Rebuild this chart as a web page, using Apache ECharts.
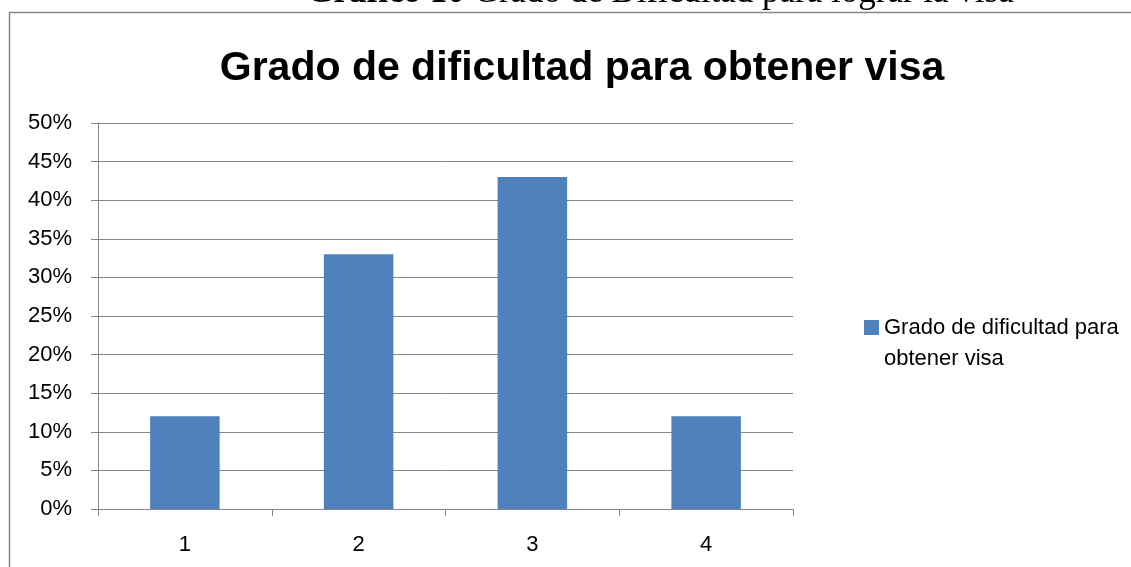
<!DOCTYPE html>
<html>
<head>
<meta charset="utf-8">
<script src="https://cdn.jsdelivr.net/npm/echarts@6/dist/echarts.min.js"></script>
<style>
  html, body { margin: 0; padding: 0; background: #fff; }
  #chart { width: 1131px; height: 567px; }
</style>
</head>
<body>
<div id="chart"></div>
<script>
// data
var categories = ['1', '2', '3', '4'];
var seriesName = 'Grado de dificultad para\nobtener visa';
var values = [12, 33, 43, 12];
var yTicks = { min: 0, max: 50, interval: 5 };

var chart = echarts.init(document.getElementById('chart'));
var uiFont = 'Liberation Sans';

chart.setOption({
    animation: false,
    backgroundColor: '#fff',
    title: {
        text: 'Grado de dificultad para obtener visa',
        left: 577,
        top: 43,
        textAlign: 'center',
        textStyle: { fontFamily: uiFont, fontWeight: 'bold', fontSize: 41, color: '#000' }
    },
    graphic: [
        {
            type: 'rect',
            shape: { x: 9.5, y: 12.5, width: 1130, height: 570 },
            style: { fill: 'none', stroke: '#868686', lineWidth: 1.5 },
            silent: true
        },
        {
            type: 'text',
            x: 660,
            y: -7,
            style: {
                text: '{b|Gráfico 10} Grado de Dificultad para lograr la visa',
                align: 'center',
                verticalAlign: 'middle',
                font: '35px "Liberation Serif"',
                fill: '#000',
                rich: { b: { fontWeight: 'bold', fontSize: 35, fontFamily: 'Liberation Serif' } }
            }
        }
    ],
    legend: {
        left: 859,
        top: 276,
        orient: 'vertical',
        itemWidth: 15,
        itemHeight: 15,
        icon: 'rect',
        // blank first line so the square sits next to the first text line
        formatter: function (name) { return ' \n' + name; },
        textStyle: { fontFamily: uiFont, fontSize: 22, color: '#000', lineHeight: 31 }
    },
    grid: { left: 98, right: 338, top: 123, bottom: 58, containLabel: false },
    xAxis: {
        type: 'category',
        data: categories,
        axisLine: { lineStyle: { color: '#868686', width: 1 } },
        axisTick: { show: true, length: 7, inside: false, lineStyle: { color: '#868686' } },
        axisLabel: { fontFamily: uiFont, fontSize: 22, color: '#000', margin: 25 }
    },
    yAxis: {
        type: 'value',
        min: yTicks.min,
        max: yTicks.max,
        interval: yTicks.interval,
        axisLine: { show: true, lineStyle: { color: '#868686', width: 1 } },
        axisTick: { show: true, length: 7, lineStyle: { color: '#868686' } },
        axisLabel: { fontFamily: uiFont, fontSize: 22, color: '#000', margin: 26, formatter: '{value}%' },
        splitLine: { show: true, lineStyle: { color: '#868686', width: 1 } }
    },
    series: [{
        name: seriesName,
        type: 'bar',
        data: values,
        barCategoryGap: '60%',
        itemStyle: { color: '#4F81BD' }
    }]
});
</script>
</body>
</html>
